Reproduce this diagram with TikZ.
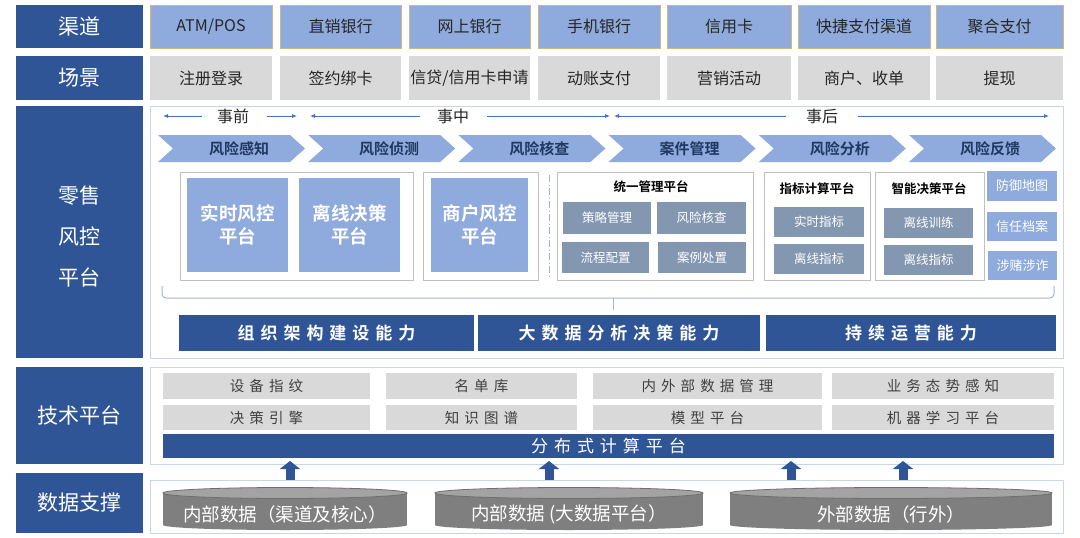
\documentclass[tikz,border=0pt]{standalone}
\usepackage{fontspec}
\setmainfont{Noto Sans CJK SC}[BoldFont={Noto Sans CJK SC Bold}]
\newfontfamily\spc{Noto Sans CJK SC}[BoldFont={Noto Sans CJK SC Bold},LetterSpace=35]
\usetikzlibrary{arrows.meta,calc}
\definecolor{dblue}{HTML}{2F5597}
\definecolor{lblue}{HTML}{8FAADC}
\definecolor{lgray}{HTML}{D9D9D9}
\definecolor{gblue}{HTML}{8497B0}
\definecolor{pborder}{HTML}{C9D5E8}
\definecolor{gold}{HTML}{CDB978}
\definecolor{navy}{HTML}{1F3864}
\definecolor{tlblue}{HTML}{4472C4}
\definecolor{cyl}{HTML}{7F7F7F}
\definecolor{cyltop}{HTML}{A3A3A3}
\definecolor{cylline}{HTML}{6F6F6F}
\definecolor{txt}{HTML}{262626}
\definecolor{boxgray}{HTML}{BFBFBF}
\definecolor{darkg}{HTML}{404040}
\definecolor{bracegray}{HTML}{A6B4C8}
\definecolor{dashc}{HTML}{9DB3DD}
\newcommand{\bx}[7]{%
  \pgfmathsetmacro\bxw{#5-#3}\pgfmathsetmacro\bxh{#6-#4}%
  \pgfmathsetmacro\bxx{(#3+#5)/2}\pgfmathsetmacro\bxy{(#4+#6)/2}%
  \node[#2, minimum width=\bxw pt, minimum height=\bxh pt] (#1) at (\bxx,\bxy) {#7};}
\newcommand{\cylin}[4]{%
  \pgfmathsetmacro\cx{(#2+#3)/2}\pgfmathsetmacro\crx{(#3-#2)/2}%
  \fill[cyl] (#2,493) rectangle (#3,525);
  \fill[cyl] (\cx,525) ellipse [x radius=\crx pt, y radius=5pt];
  \draw[cylline, fill=cyltop, line width=0.8pt] (\cx,493) ellipse [x radius=\crx pt, y radius=5.5pt];
  \node[cyltxt] (#1) at (\cx,514) {#4};}
\tikzset{
  bxbase/.style={inner sep=0pt, outer sep=0pt},
  lab/.style={bxbase, fill=dblue, text=white, font=\fontsize{21}{24}\selectfont},
  chan/.style={bxbase, fill=lblue, draw=gold, line width=0.7pt, text=txt, font=\fontsize{16}{19}\selectfont},
  scene/.style={bxbase, fill=lgray, text=txt, font=\fontsize{16}{19}\selectfont},
  panel/.style={bxbase, draw=pborder, line width=1pt, fill=white},
  wbox/.style={bxbase, draw=boxgray, line width=0.8pt, fill=white},
  plat/.style={bxbase, fill=lblue, text=white, align=center, font=\bfseries\fontsize{18.5}{23}\selectfont},
  sub/.style={bxbase, fill=gblue, text=white, font=\fontsize{12.5}{15}\selectfont},
  rbox/.style={bxbase, fill=lblue, text=white, font=\fontsize{13}{15}\selectfont},
  ttl/.style={inner sep=0pt, text=black, font=\bfseries\fontsize{12.5}{15}\selectfont},
  capbar/.style={bxbase, fill=dblue, text=white, font=\spc\bfseries\fontsize{17}{20}\selectfont},
  techbox/.style={bxbase, fill=lgray, text=darkg, font=\spc\fontsize{14.5}{17}\selectfont},
  distbar/.style={bxbase, fill=dblue, text=white, font=\spc\fontsize{17}{20}\selectfont},
  tltxt/.style={inner sep=0pt, text=txt, font=\fontsize{16}{19}\selectfont},
  tlarrow/.style={draw=tlblue, line width=0.8pt, -{Latex[length=5pt,width=4pt]}},
  chevtxt/.style={inner sep=0pt, text=navy, font=\bfseries\fontsize{15}{18}\selectfont},
  upar/.style={draw=dblue, line width=9pt, -{Triangle[length=8pt,width=20pt]}},
  bracepath/.style={draw=bracegray, line width=1pt, rounded corners=4pt},
  vdash/.style={draw=dashc, line width=1pt, dash pattern=on 7pt off 2.5pt on 1pt off 2.5pt},
  cyltxt/.style={inner sep=0pt, text=white, font=\fontsize{18.5}{21}\selectfont},
}
\begin{document}
\begin{tikzpicture}[x=1pt,y=-1pt]
\useasboundingbox (0,0) rectangle (1080,538);
\fill[white] (0,0) rectangle (1080,538);
% left labels
\bx{lq}{lab}{16}{5}{143}{48}{渠道}
\bx{lc}{lab}{16}{56}{143}{100}{场景}
\bx{lr}{lab}{16}{106}{143}{358}{}
\node[lab, fill=none, align=center, font=\fontsize{21}{41}\selectfont] (lrt) at (79.5,236) {零售\\风控\\平台};
\bx{lt}{lab}{16}{367}{143}{464}{技术平台}
\bx{ld}{lab}{16}{473}{143}{533}{数据支撑}
% channels
\bx{q1}{chan}{150}{5}{272}{48}{ATM/POS}
\bx{q2}{chan}{280}{5}{401}{48}{直销银行}
\bx{q3}{chan}{409}{5}{530}{48}{网上银行}
\bx{q4}{chan}{538}{5}{660}{48}{手机银行}
\bx{q5}{chan}{667}{5}{791}{48}{信用卡}
\bx{q6}{chan}{798}{5}{930}{48}{快捷支付渠道}
\bx{q7}{chan}{936}{5}{1063}{48}{聚合支付}
% scenes
\bx{c1}{scene}{150}{56}{272}{100}{注册登录}
\bx{c2}{scene}{280}{56}{401}{100}{签约绑卡}
\bx{c3}{scene}{409}{56}{530}{100}{信贷/信用卡申请}
\bx{c4}{scene}{538}{56}{660}{100}{动账支付}
\bx{c5}{scene}{667}{56}{791}{100}{营销活动}
\bx{c6}{scene}{798}{56}{930}{100}{商户、收单}
\bx{c7}{scene}{936}{56}{1063}{100}{提现}
% main panel
\bx{pr}{panel}{150}{106}{1063}{358}{}
% timeline
\node[tltxt] (t1) at (233,116) {事前};
\node[tltxt] (t2) at (453,116) {事中};
\node[tltxt] (t3) at (822,116) {事后};
\coordinate (t1l) at (163,116); \coordinate (t1r) at (297,116);
\coordinate (t2l) at (310,116); \coordinate (t2r) at (610,116);
\coordinate (t3l) at (614,116); \coordinate (t3r) at (1049,116);
\draw[tlarrow] ($(t1.west)+(-15,0)$) -- (t1l);
\draw[tlarrow] ($(t1.east)+(18,0)$) -- (t1r);
\draw[tlarrow] ($(t2.west)+(-17,0)$) -- (t2l);
\draw[tlarrow] ($(t2.east)+(18,0)$) -- (t2r);
\draw[tlarrow] ($(t3.west)+(-20,0)$) -- (t3l);
\draw[tlarrow] ($(t3.east)+(20,0)$) -- (t3r);
% chevrons
\foreach \i/\t in {0/风险感知,1/风险侦测,2/风险核查,3/案件管理,4/风险分析,5/风险反馈}{
  \pgfmathsetmacro\L{158+150.2*\i}
  \fill[lblue] (\L,135) -- ({\L+132},135) -- ({\L+147},148.5) -- ({\L+132},162) -- (\L,162) -- ({\L+15},148.5) -- cycle;
  \node[chevtxt] (ch\i) at ({\L+81},148.5) {\t};
}
% platforms
\bx{w1}{wbox}{180}{172}{413}{280}{}
\bx{p1}{plat}{187}{178}{288}{272}{实时风控\\平台}
\bx{p2}{plat}{299}{178}{400}{272}{离线决策\\平台}
\bx{w2}{wbox}{423}{172}{538}{280}{}
\bx{p3}{plat}{431}{178}{528}{272}{商户风控\\平台}
\draw[vdash] (549,175) -- (549,278);
\bx{w3}{wbox}{557}{172}{753}{280}{}
\node[ttl] (tu) at (651,187) {统一管理平台};
\bx{s1}{sub}{563}{202}{651}{234}{策略管理}
\bx{s2}{sub}{657}{202}{746}{234}{风险核查}
\bx{s3}{sub}{562}{242}{649}{273}{流程配置}
\bx{s4}{sub}{658}{242}{746}{273}{案例处置}
\bx{w4}{wbox}{764}{172}{870}{280}{}
\node[ttl] (tz) at (817,189) {指标计算平台};
\bx{s5}{sub}{774}{207}{864}{237}{实时指标}
\bx{s6}{sub}{774}{244}{864}{274}{离线指标}
\bx{w5}{wbox}{875}{172}{984}{280}{}
\node[ttl] (tn) at (929,189) {智能决策平台};
\bx{s7}{sub}{884}{208}{973}{238}{离线训练}
\bx{s8}{sub}{884}{245}{973}{275}{离线指标}
\bx{r1}{rbox}{987}{171}{1057}{201}{防御地图}
\bx{r2}{rbox}{987}{212}{1057}{241}{信任档案}
\bx{r3}{rbox}{988}{251}{1057}{280}{涉赌涉诈}
% brace
\draw[bracepath] (162,286) -- (162,298) -- (1054,298) -- (1054,286);
\draw[bracegray, line width=1pt] (613,298) -- (613,310);
% capability bars
\bx{k1}{capbar}{179}{315}{474}{351}{组织架构建设能力}
\bx{k2}{capbar}{478}{315}{760}{351}{大数据分析决策能力}
\bx{k3}{capbar}{766}{315}{1056}{351}{持续运营能力}
% tech panel
\bx{tp}{panel}{150}{367}{1063}{464}{}
\bx{e1}{techbox}{163}{373}{370}{399}{设备指纹}
\bx{e2}{techbox}{386}{373}{577}{399}{名单库}
\bx{e3}{techbox}{593}{373}{822}{399}{内外部数据管理}
\bx{e4}{techbox}{832}{373}{1054}{399}{业务态势感知}
\bx{e5}{techbox}{163}{405}{370}{430}{决策引擎}
\bx{e6}{techbox}{386}{405}{577}{430}{知识图谱}
\bx{e7}{techbox}{593}{405}{822}{430}{模型平台}
\bx{e8}{techbox}{832}{405}{1054}{430}{机器学习平台}
\bx{dist}{distbar}{163}{434}{1054}{458}{分布式计算平台}
% data panel
\bx{dp}{panel}{150}{480}{1063}{533}{}
\cylin{d1}{163}{407}{内部数据（渠道及核心）}
\cylin{d2}{435}{703}{内部数据 (大数据平台）}
\cylin{d3}{730}{1052}{外部数据（行外）}
% arrows
\foreach \n/\x in {1/290,2/549,3/791,4/903}{
  \coordinate (ax\n) at (\x,0);
  \draw[upar] (ax\n |- dp.north) -- ($(ax\n |- tp.south)+(0,-3)$);
}
\end{tikzpicture}
\end{document}
